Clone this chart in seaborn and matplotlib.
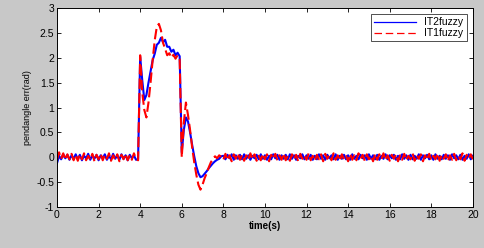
import numpy as np
import pandas as pd
import matplotlib
matplotlib.use("Agg")
import matplotlib.pyplot as plt
import seaborn as sns

# sampling grid: 0 .. 20 s every 0.1 s
time = np.round(np.arange(201) * 0.1, 1)

# IT2 fuzzy controller, pendulum angle error (rad)
it2_head = [-0.12, 0.03, -0.04, 0.06, -0.02, 0.05, -0.05, 0.04, -0.03, 0.06,
            -0.04, 0.05, -0.06, 0.03, -0.02, 0.07, -0.05, 0.04, -0.03, 0.05,
            -0.06, 0.04, -0.02, 0.06, -0.05, 0.03, -0.04, 0.07, -0.03, 0.04,
            -0.05, 0.06, -0.03, 0.04, -0.06, 0.05, -0.02, 0.04, -0.05, -0.04]
it2_transient = [2.02, 1.55, 1.15, 1.25, 1.50, 1.72, 1.95, 2.08, 2.26, 2.30,
                 2.40, 2.31, 2.36, 2.22, 2.22, 2.12, 2.16, 2.05, 2.10, 2.03,
                 0.10, 0.55, 0.80, 0.72, 0.50, 0.25, 0.02, -0.18, -0.32, -0.40,
                 -0.38, -0.33, -0.28, -0.22, -0.17, -0.12, -0.08, -0.05, -0.03, 0.02]
it2_tail = [0.03, -0.04, 0.05, -0.02, 0.06, -0.05, 0.04, -0.03, 0.05, -0.04,
            0.06, -0.03, 0.04, -0.05, 0.03, -0.02, 0.05, -0.04, 0.06, -0.03,
            0.04, -0.05, 0.03, -0.04, 0.06, -0.02, 0.05, -0.05, 0.04, -0.03,
            0.05, -0.04, 0.06, -0.03, 0.04, -0.05, 0.03, -0.02, 0.06, -0.04,
            0.04, -0.03, 0.05, -0.05, 0.03, -0.04, 0.06, -0.03, 0.04, -0.05,
            0.05, -0.02, 0.04, -0.04, 0.06, -0.05, 0.03, -0.03, 0.05, -0.04,
            0.04, -0.05, 0.06, -0.03, 0.03, -0.04, 0.05, -0.02, 0.04, -0.05,
            0.06, -0.03, 0.04, -0.04, 0.05, -0.05, 0.03, -0.03, 0.06, -0.04,
            0.04, -0.02, 0.05, -0.05, 0.03, -0.04, 0.06, -0.03, 0.04, -0.05,
            0.05, -0.04, 0.03, -0.03, 0.06, -0.05, 0.04, -0.02, 0.05, -0.04,
            0.04, -0.05, 0.06, -0.03, 0.03, -0.04, 0.05, -0.03, 0.04, -0.05,
            0.06, -0.02, 0.04, -0.04, 0.05, -0.05, 0.03, -0.03, 0.06, -0.04,
            0.03]

# IT1 fuzzy controller
it1_head = [-0.05, 0.10, -0.03, 0.08, -0.05, 0.06, -0.04, 0.07, -0.06, 0.05,
            -0.07, 0.06, -0.04, 0.08, -0.06, 0.03, -0.05, 0.07, -0.08, 0.05,
            -0.04, 0.07, -0.06, 0.05, -0.03, 0.08, -0.07, 0.04, -0.05, 0.06,
            -0.08, 0.05, -0.04, 0.07, -0.06, 0.04, -0.05, 0.08, -0.03, -0.06]
it1_transient = [2.05, 1.30, 0.95, 0.80, 1.10, 1.50, 1.95, 2.35, 2.62, 2.68,
                 2.55, 2.30, 2.18, 2.05, 2.09, 2.00, 2.06, 1.98, 2.05, 1.97,
                 0.00, 0.70, 1.10, 0.85, 0.55, 0.20, -0.10, -0.35, -0.55, -0.65,
                 -0.55, -0.42, -0.32, -0.20, -0.10, -0.03, 0.02, -0.02, 0.04, 0.01]
it1_tail = [-0.05, 0.07, -0.06, 0.04, -0.08, 0.06, -0.03, 0.08, -0.05, 0.05,
            -0.07, 0.04, -0.05, 0.08, -0.04, 0.06, -0.07, 0.03, -0.06, 0.07,
            -0.04, 0.06, -0.08, 0.05, -0.03, 0.07, -0.06, 0.04, -0.05, 0.08,
            -0.06, 0.03, -0.07, 0.06, -0.04, 0.05, -0.08, 0.07, -0.03, 0.04,
            -0.05, 0.08, -0.06, 0.03, -0.07, 0.05, -0.04, 0.06, -0.08, 0.07,
            -0.03, 0.05, -0.06, 0.08, -0.05, 0.04, -0.07, 0.06, -0.04, 0.03,
            -0.08, 0.07, -0.05, 0.04, -0.06, 0.08, -0.03, 0.05, -0.07, 0.06,
            -0.04, 0.03, -0.08, 0.07, -0.05, 0.06, -0.04, 0.08, -0.06, 0.04,
            -0.07, 0.05, -0.03, 0.06, -0.08, 0.04, -0.05, 0.07, -0.06, 0.03,
            -0.04, 0.08, -0.07, 0.05, -0.03, 0.06, -0.08, 0.04, -0.05, 0.07,
            -0.06, 0.03, -0.04, 0.08, -0.07, 0.05, -0.03, 0.06, -0.08, 0.04,
            -0.05, 0.07, -0.06, 0.03, -0.04, 0.08, -0.07, 0.05, -0.03, 0.06,
            -0.04]

it2 = it2_head + it2_transient + it2_tail
it1 = it1_head + it1_transient + it1_tail

df = pd.DataFrame({
    "time": np.concatenate([time, time]),
    "err": it2 + it1,
    "ctrl": ["IT2fuzzy"] * len(time) + ["IT1fuzzy"] * len(time),
})

plt.rcParams["font.family"] = ["Liberation Sans", "DejaVu Sans"]

fig = plt.figure(figsize=(4.85, 2.48), dpi=100, facecolor="#c8c8c8")
ax = fig.add_axes([0.1175, 0.165, 0.8575, 0.803])
ax.set_facecolor("white")

sns.lineplot(data=df, x="time", y="err", hue="ctrl", style="ctrl",
             palette={"IT2fuzzy": "#0000ff", "IT1fuzzy": "#ff0000"},
             dashes={"IT2fuzzy": "", "IT1fuzzy": (5, 2)},
             linewidth=1.5, ax=ax, estimator=None, sort=False)

ax.set_xlim(0, 20)
ax.set_ylim(-1, 3)
ax.set_xticks(np.arange(0, 21, 2))
ax.set_yticks([-1, -0.5, 0, 0.5, 1, 1.5, 2, 2.5, 3])
ax.set_yticklabels(["-1", "-0.5", "0", "0.5", "1", "1.5", "2", "2.5", "3"])
ax.tick_params(direction="in", top=True, right=True, length=3, width=0.6,
               labelsize=7.5, pad=2)
for s in ax.spines.values():
    s.set_linewidth(0.7)

ax.set_xlabel("time(s)", fontsize=7, fontweight="bold", labelpad=1)
ax.set_ylabel("pendangle err(rad)", fontsize=6.5, labelpad=3)

leg = ax.legend(loc="upper right", fontsize=7.5, frameon=True, fancybox=False,
                edgecolor="black", handlelength=4, borderpad=0.3,
                labelspacing=0.1, borderaxespad=0.6)
leg.get_frame().set_linewidth(0.6)
for line in leg.get_lines():
    line.set_linewidth(0.9)
    line.set_dashes((6, 3)) if line.get_color() == "#ff0000" else None

fig.savefig("out.png", dpi=100, facecolor=fig.get_facecolor())
